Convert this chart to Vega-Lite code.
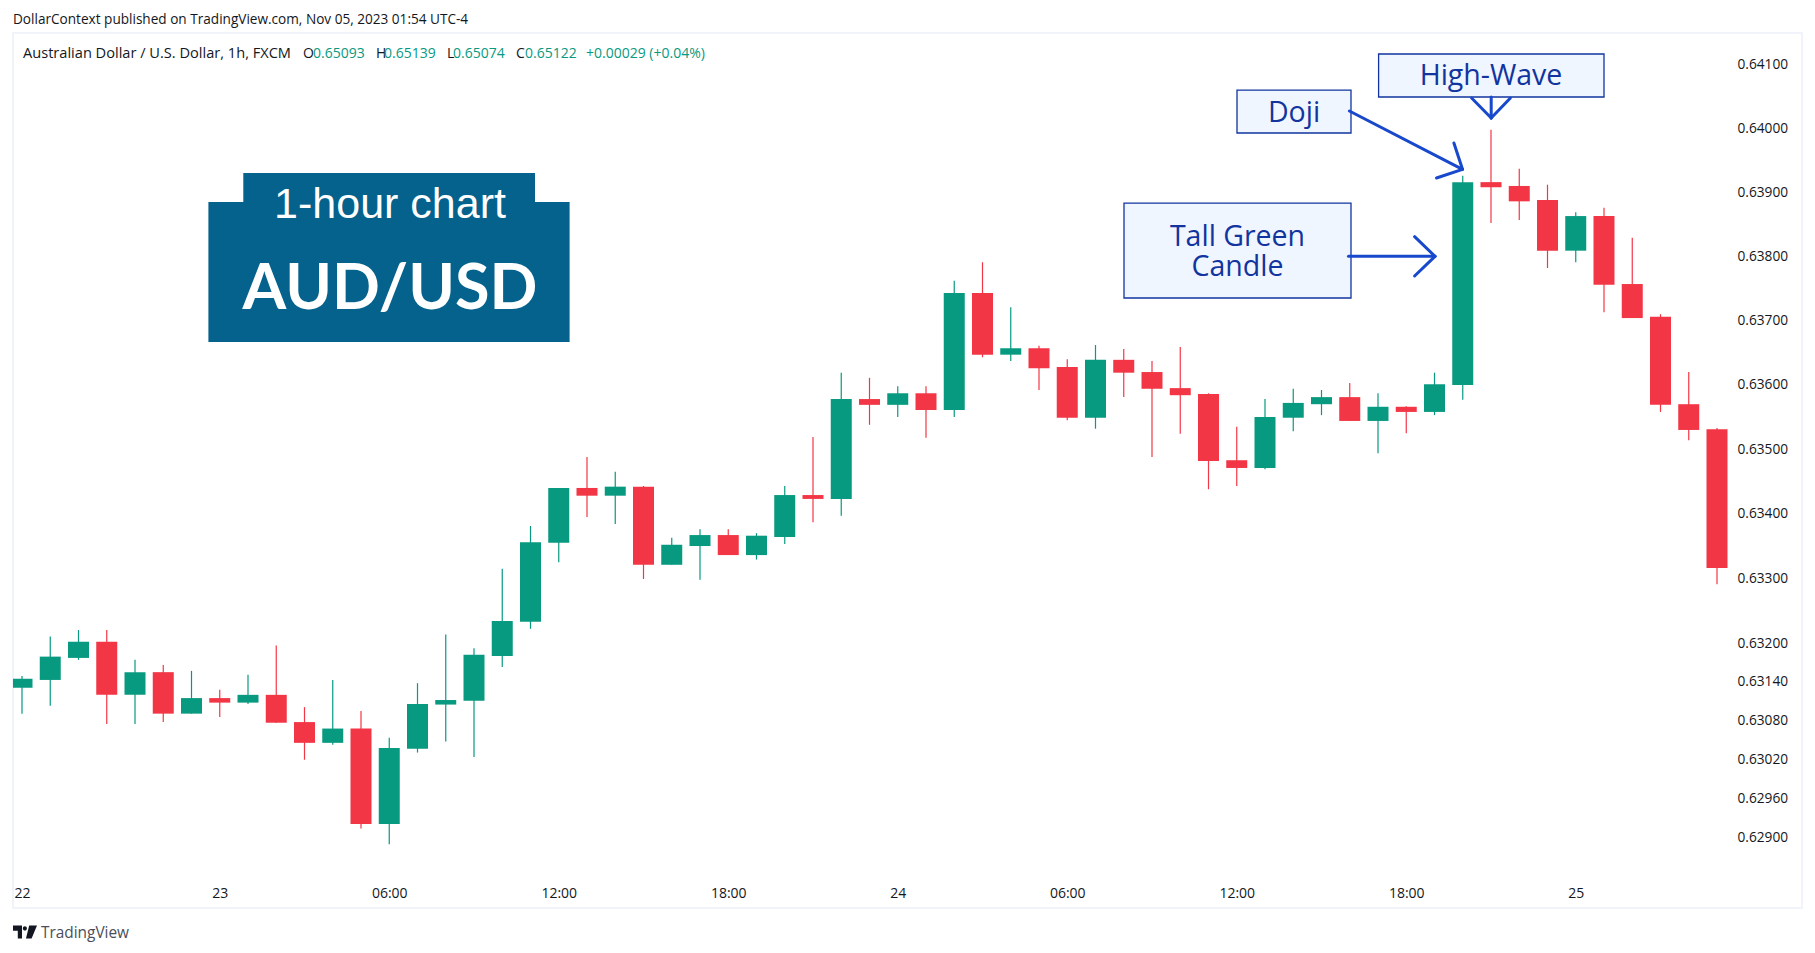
{
  "$schema": "https://vega.github.io/schema/vega-lite/v6.json",
  "autosize": "none",
  "width": 1789,
  "height": 875,
  "padding": {"left": 13, "top": 33, "right": 13, "bottom": 45},
  "background": "#ffffff",
  "view": {"stroke": "#f0f3fa", "strokeWidth": 2},
  "title": {
    "text": "DollarContext published on TradingView.com, Nov 05, 2023 01:54 UTC-4",
    "anchor": "start",
    "frame": "group",
    "offset": 6,
    "font": "Open Sans",
    "fontSize": 13.6,
    "fontWeight": "normal",
    "color": "#131722"
  },
  "datasets": {
    "candles": [
      {"t":"2023-10-22T17:00:00Z","open":0.63131,"high":0.63149,"low":0.63091,"close":0.63145},
      {"t":"2023-10-22T18:00:00Z","open":0.63143,"high":0.63210,"low":0.63103,"close":0.63179},
      {"t":"2023-10-22T19:00:00Z","open":0.63177,"high":0.63220,"low":0.63174,"close":0.63202},
      {"t":"2023-10-22T20:00:00Z","open":0.63202,"high":0.63220,"low":0.63075,"close":0.63120},
      {"t":"2023-10-22T21:00:00Z","open":0.63120,"high":0.63174,"low":0.63075,"close":0.63155},
      {"t":"2023-10-22T22:00:00Z","open":0.63155,"high":0.63166,"low":0.63078,"close":0.63091},
      {"t":"2023-10-22T23:00:00Z","open":0.63091,"high":0.63157,"low":0.63091,"close":0.63115},
      {"t":"2023-10-23T00:00:00Z","open":0.63115,"high":0.63128,"low":0.63086,"close":0.63108},
      {"t":"2023-10-23T01:00:00Z","open":0.63108,"high":0.63151,"low":0.63106,"close":0.63120},
      {"t":"2023-10-23T02:00:00Z","open":0.63120,"high":0.63196,"low":0.63077,"close":0.63077},
      {"t":"2023-10-23T03:00:00Z","open":0.63078,"high":0.63101,"low":0.63020,"close":0.63046},
      {"t":"2023-10-23T04:00:00Z","open":0.63046,"high":0.63143,"low":0.63043,"close":0.63068},
      {"t":"2023-10-23T05:00:00Z","open":0.63068,"high":0.63095,"low":0.62914,"close":0.62921},
      {"t":"2023-10-23T06:00:00Z","open":0.62921,"high":0.63054,"low":0.62890,"close":0.63038},
      {"t":"2023-10-23T07:00:00Z","open":0.63037,"high":0.63138,"low":0.63031,"close":0.63106},
      {"t":"2023-10-23T08:00:00Z","open":0.63105,"high":0.63213,"low":0.63048,"close":0.63112},
      {"t":"2023-10-23T09:00:00Z","open":0.63111,"high":0.63192,"low":0.63024,"close":0.63182},
      {"t":"2023-10-23T10:00:00Z","open":0.63180,"high":0.63315,"low":0.63163,"close":0.63234},
      {"t":"2023-10-23T11:00:00Z","open":0.63233,"high":0.63381,"low":0.63222,"close":0.63356},
      {"t":"2023-10-23T12:00:00Z","open":0.63355,"high":0.63440,"low":0.63325,"close":0.63440},
      {"t":"2023-10-23T13:00:00Z","open":0.63440,"high":0.63488,"low":0.63395,"close":0.63428},
      {"t":"2023-10-23T14:00:00Z","open":0.63428,"high":0.63465,"low":0.63384,"close":0.63442},
      {"t":"2023-10-23T15:00:00Z","open":0.63442,"high":0.63443,"low":0.63299,"close":0.63321},
      {"t":"2023-10-23T16:00:00Z","open":0.63321,"high":0.63363,"low":0.63321,"close":0.63352},
      {"t":"2023-10-23T17:00:00Z","open":0.63350,"high":0.63376,"low":0.63298,"close":0.63367},
      {"t":"2023-10-23T18:00:00Z","open":0.63367,"high":0.63376,"low":0.63336,"close":0.63336},
      {"t":"2023-10-23T19:00:00Z","open":0.63336,"high":0.63370,"low":0.63329,"close":0.63366},
      {"t":"2023-10-23T20:00:00Z","open":0.63364,"high":0.63443,"low":0.63353,"close":0.63429},
      {"t":"2023-10-23T21:00:00Z","open":0.63429,"high":0.63519,"low":0.63387,"close":0.63423},
      {"t":"2023-10-23T22:00:00Z","open":0.63423,"high":0.63619,"low":0.63397,"close":0.63578},
      {"t":"2023-10-23T23:00:00Z","open":0.63578,"high":0.63611,"low":0.63538,"close":0.63569},
      {"t":"2023-10-24T00:00:00Z","open":0.63569,"high":0.63598,"low":0.63550,"close":0.63587},
      {"t":"2023-10-24T01:00:00Z","open":0.63587,"high":0.63598,"low":0.63518,"close":0.63561},
      {"t":"2023-10-24T02:00:00Z","open":0.63561,"high":0.63762,"low":0.63550,"close":0.63743},
      {"t":"2023-10-24T03:00:00Z","open":0.63743,"high":0.63791,"low":0.63643,"close":0.63647},
      {"t":"2023-10-24T04:00:00Z","open":0.63647,"high":0.63721,"low":0.63637,"close":0.63657},
      {"t":"2023-10-24T05:00:00Z","open":0.63657,"high":0.63661,"low":0.63592,"close":0.63626},
      {"t":"2023-10-24T06:00:00Z","open":0.63628,"high":0.63640,"low":0.63545,"close":0.63549},
      {"t":"2023-10-24T07:00:00Z","open":0.63549,"high":0.63662,"low":0.63532,"close":0.63639},
      {"t":"2023-10-24T08:00:00Z","open":0.63639,"high":0.63656,"low":0.63581,"close":0.63619},
      {"t":"2023-10-24T09:00:00Z","open":0.63620,"high":0.63637,"low":0.63488,"close":0.63594},
      {"t":"2023-10-24T10:00:00Z","open":0.63595,"high":0.63659,"low":0.63524,"close":0.63584},
      {"t":"2023-10-24T11:00:00Z","open":0.63586,"high":0.63587,"low":0.63438,"close":0.63482},
      {"t":"2023-10-24T12:00:00Z","open":0.63483,"high":0.63535,"low":0.63443,"close":0.63471},
      {"t":"2023-10-24T13:00:00Z","open":0.63471,"high":0.63578,"low":0.63469,"close":0.63550},
      {"t":"2023-10-24T14:00:00Z","open":0.63549,"high":0.63594,"low":0.63528,"close":0.63572},
      {"t":"2023-10-24T15:00:00Z","open":0.63570,"high":0.63592,"low":0.63553,"close":0.63581},
      {"t":"2023-10-24T16:00:00Z","open":0.63581,"high":0.63603,"low":0.63544,"close":0.63544},
      {"t":"2023-10-24T17:00:00Z","open":0.63544,"high":0.63587,"low":0.63494,"close":0.63566},
      {"t":"2023-10-24T18:00:00Z","open":0.63566,"high":0.63567,"low":0.63525,"close":0.63558},
      {"t":"2023-10-24T19:00:00Z","open":0.63558,"high":0.63619,"low":0.63553,"close":0.63601},
      {"t":"2023-10-24T20:00:00Z","open":0.63600,"high":0.63926,"low":0.63577,"close":0.63916},
      {"t":"2023-10-24T21:00:00Z","open":0.63916,"high":0.63998,"low":0.63852,"close":0.63908},
      {"t":"2023-10-24T22:00:00Z","open":0.63910,"high":0.63937,"low":0.63857,"close":0.63886},
      {"t":"2023-10-24T23:00:00Z","open":0.63888,"high":0.63912,"low":0.63782,"close":0.63809},
      {"t":"2023-10-25T00:00:00Z","open":0.63809,"high":0.63869,"low":0.63791,"close":0.63863},
      {"t":"2023-10-25T01:00:00Z","open":0.63863,"high":0.63876,"low":0.63713,"close":0.63756},
      {"t":"2023-10-25T02:00:00Z","open":0.63757,"high":0.63829,"low":0.63704,"close":0.63704},
      {"t":"2023-10-25T03:00:00Z","open":0.63706,"high":0.63710,"low":0.63558,"close":0.63569},
      {"t":"2023-10-25T04:00:00Z","open":0.63570,"high":0.63620,"low":0.63514,"close":0.63530},
      {"t":"2023-10-25T05:00:00Z","open":0.63531,"high":0.63533,"low":0.63291,"close":0.63316}
    ]
  },
  "layer": [
    {
      "data": {"name": "candles"},
      "mark": {"type": "rule", "strokeWidth": 1.2, "clip": true},
      "encoding": {
        "x": {
          "field": "t",
          "type": "temporal",
          "scale": {"type": "utc", "domain": [1697992853000, 1698220832000], "nice": false, "padding": 0},
          "axis": {
            "title": "TradingView",
            "titleFont": "Open Sans",
            "titleFontSize": 15.4,
            "titleFontWeight": "normal",
            "titleColor": "#4a4e5a",
            "titleAnchor": "start",
            "titleAlign": "left",
            "titleBaseline": "middle",
            "titleX": 27.5,
            "titleY": 24,
            "values": [1697994000000, 1698019200000, 1698040800000, 1698062400000, 1698084000000, 1698105600000, 1698127200000, 1698148800000, 1698170400000, 1698192000000],
            "labelExpr": "utchours(datum.value) === 17 ? '22' : utchours(datum.value) === 0 ? utcFormat(datum.value, '%d') : utcFormat(datum.value, '%H:%M')",
            "labelFont": "Open Sans",
            "labelFontSize": 14,
            "labelColor": "#131722",
            "labelFontWeight": {"condition": {"test": "datum.value === 1698019200000", "value": "bold"}, "value": "normal"},
            "labelPadding": -22,
            "labelFlush": false,
            "labelBound": false,
            "labelOverlap": false,
            "ticks": false,
            "domain": false,
            "grid": false
          }
        },
        "y": {
          "field": "low",
          "type": "quantitative",
          "scale": {"type": "log", "domain": [0.62792, 0.641494], "nice": false, "zero": false, "padding": 0},
          "axis": {
            "orient": "right",
            "title": null,
            "values": [0.641, 0.64, 0.639, 0.638, 0.637, 0.636, 0.635, 0.634, 0.633, 0.632, 0.6314, 0.6308, 0.6302, 0.6296, 0.629],
            "format": ".5f",
            "labelFont": "Open Sans",
            "labelFontSize": 13.7,
            "labelColor": "#131722",
            "labelPadding": -65,
            "labelAlign": "left",
            "labelOverlap": false,
            "labelBound": false,
            "labelFlush": false,
            "ticks": false,
            "domain": false,
            "grid": false
          }
        },
        "y2": {"field": "high"},
        "color": {"condition": {"test": "datum.close >= datum.open", "value": "#089981"}, "value": "#f23645"}
      }
    },
    {
      "data": {"name": "candles"},
      "mark": {"type": "bar", "size": 21, "clip": true},
      "encoding": {
        "x": {"field": "t", "type": "temporal"},
        "y": {"field": "open", "type": "quantitative"},
        "y2": {"field": "close"},
        "color": {"condition": {"test": "datum.close >= datum.open", "value": "#089981"}, "value": "#f23645"}
      }
    },
    {
      "data": {"values": [
        {"t": 1698017754000, "t2": 1698063783000, "p": 0.638849, "p2": 0.636667},
        {"t": 1698022201000, "t2": 1698059374000, "p": 0.639302, "p2": 0.638840}
      ]},
      "mark": {"type": "rect", "color": "#04628d"},
      "encoding": {
        "x": {"field": "t", "type": "temporal"},
        "x2": {"field": "t2"},
        "y": {"field": "p", "type": "quantitative"},
        "y2": {"field": "p2"}
      }
    },
    {
      "data": {"values": [{"t": 1698040896000, "p": 0.638802, "label": "1-hour chart"}]},
      "mark": {"type": "text", "font": "Liberation Sans", "fontSize": 43, "color": "#ffffff", "align": "center", "baseline": "middle"},
      "encoding": {
        "x": {"field": "t", "type": "temporal"},
        "y": {"field": "p", "type": "quantitative"},
        "text": {"field": "label"}
      }
    },
    {
      "data": {"values": [{"t": 1698040896000, "p": 0.637477, "label": "AUD/USD"}]},
      "mark": {"type": "text", "font": "Lato", "fontSize": 63, "fontWeight": "bold", "color": "#ffffff", "align": "center", "baseline": "middle"},
      "encoding": {
        "x": {"field": "t", "type": "temporal"},
        "y": {"field": "p", "type": "quantitative"},
        "text": {"field": "label"}
      }
    },
    {
      "data": {"values": [
        {"t": 1698166875000, "t2": 1698195600000, "p": 0.641165, "p2": 0.640491},
        {"t": 1698148832000, "t2": 1698163359000, "p": 0.6406, "p2": 0.639928},
        {"t": 1698134432000, "t2": 1698163359000, "p": 0.638833, "p2": 0.637352}
      ]},
      "mark": {"type": "rect", "fill": "#eff6ff", "stroke": "#12349e", "strokeWidth": 1.3},
      "encoding": {
        "x": {"field": "t", "type": "temporal"},
        "x2": {"field": "t2"},
        "y": {"field": "p", "type": "quantitative"},
        "y2": {"field": "p2"}
      }
    },
    {
      "data": {"values": [
        {"t": 1698181200000, "p": 0.64082, "label": "High-Wave"},
        {"t": 1698156095000, "p": 0.640241, "label": "Doji"},
        {"t": 1698148896000, "p": 0.638303, "label": "Tall Green"},
        {"t": 1698148896000, "p": 0.637843, "label": "Candle"}
      ]},
      "mark": {"type": "text", "font": "Open Sans", "fontSize": 28.5, "color": "#12349e", "align": "center", "baseline": "middle"},
      "encoding": {
        "x": {"field": "t", "type": "temporal"},
        "y": {"field": "p", "type": "quantitative"},
        "text": {"field": "label"}
      }
    },
    {
      "data": {"values": [
        {"t": 1698163041000, "t2": 1698174064000, "p": 0.638002, "p2": 0.638002},
        {"t": 1698171465000, "t2": 1698174064000, "p": 0.638308, "p2": 0.638002},
        {"t": 1698171465000, "t2": 1698174064000, "p": 0.637695, "p2": 0.638002},
        {"t": 1698163155000, "t2": 1698177568000, "p": 0.640272, "p2": 0.63936},
        {"t": 1698176472000, "t2": 1698177568000, "p": 0.639771, "p2": 0.63936},
        {"t": 1698174255000, "t2": 1698177568000, "p": 0.639224, "p2": 0.63936},
        {"t": 1698181225000, "t2": 1698181225000, "p": 0.640491, "p2": 0.640162},
        {"t": 1698178728000, "t2": 1698181225000, "p": 0.640475, "p2": 0.640162},
        {"t": 1698183673000, "t2": 1698181225000, "p": 0.640475, "p2": 0.640162}
      ]},
      "mark": {"type": "rule", "color": "#1848cc", "strokeWidth": 3, "strokeCap": "round"},
      "encoding": {
        "x": {"field": "t", "type": "temporal"},
        "x2": {"field": "t2"},
        "y": {"field": "p", "type": "quantitative"},
        "y2": {"field": "p2"}
      }
    },
    {
      "data": {"values": [
        {"t": 1697994127000, "p": 0.641169, "label": "Australian Dollar / U.S. Dollar, 1h, FXCM"}
      ]},
      "mark": {"type": "text", "font": "Open Sans", "fontSize": 14.6, "color": "#131722", "align": "left", "baseline": "middle"},
      "encoding": {
        "x": {"field": "t", "type": "temporal"},
        "y": {"field": "p", "type": "quantitative"},
        "text": {"field": "label"}
      }
    },
    {
      "data": {"values": [
        {"t": 1698029809000, "p": 0.641169, "label": "O"},
        {"t": 1698039112000, "p": 0.641169, "label": "H"},
        {"t": 1698048159000, "p": 0.641169, "label": "L"},
        {"t": 1698056952000, "p": 0.641169, "label": "C"}
      ]},
      "mark": {"type": "text", "font": "Open Sans", "fontSize": 14, "color": "#131722", "align": "left", "baseline": "middle"},
      "encoding": {
        "x": {"field": "t", "type": "temporal"},
        "y": {"field": "p", "type": "quantitative"},
        "text": {"field": "label"}
      }
    },
    {
      "data": {"values": [
        {"t": 1698031083000, "p": 0.641169, "label": "0.65093"},
        {"t": 1698040131000, "p": 0.641169, "label": "0.65139"},
        {"t": 1698048924000, "p": 0.641169, "label": "0.65074"},
        {"t": 1698058099000, "p": 0.641169, "label": "0.65122"},
        {"t": 1698065873000, "p": 0.641169, "label": "+0.00029 (+0.04%)"}
      ]},
      "mark": {"type": "text", "font": "Open Sans", "fontSize": 14, "color": "#089981", "align": "left", "baseline": "middle"},
      "encoding": {
        "x": {"field": "t", "type": "temporal"},
        "y": {"field": "p", "type": "quantitative"},
        "text": {"field": "label"}
      }
    },
    {
      "data": {"values": [{"t": 1697994382000, "p": 0.627552}]},
      "mark": {
        "type": "point",
        "filled": true,
        "opacity": 1,
        "color": "#131722",
        "size": 576,
        "shape": "M-1,-.55 L-.25,-.55 L-.25,.55 L-.6,.55 L-.6,-.1 L-1,-.1 Z M-.18,-.3 A.17,.17 0 1,0 .16,-.3 A.17,.17 0 1,0 -.18,-.3 Z M.35,-.55 L1,-.55 L.55,.55 L.08,.55 Z"
      },
      "encoding": {
        "x": {"field": "t", "type": "temporal"},
        "y": {"field": "p", "type": "quantitative"}
      }
    }
  ]
}
